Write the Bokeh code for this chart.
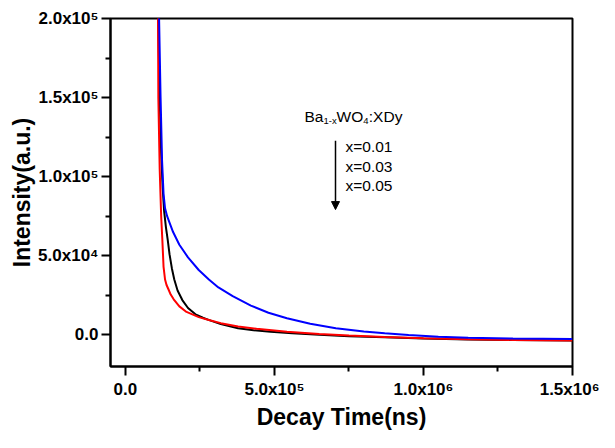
from bokeh.plotting import figure
from bokeh.models import FixedTicker, Range1d, Label, Arrow, NormalHead
from bokeh.embed import file_html
from bokeh.resources import INLINE

# ---- data ----
black_x = [1.07e5, 1.10e5, 1.15e5, 1.20e5, 1.25e5, 1.30e5, 1.36e5, 1.42e5, 1.48e5, 1.56e5,
           1.64e5, 1.75e5, 1.91e5, 2.10e5, 2.35e5, 2.60e5, 2.79e5, 3.20e5, 3.78e5, 4.30e5,
           4.87e5, 5.60e5, 6.51e5, 7.50e5, 8.70e5, 1.00e6, 1.15e6, 1.30e6, 1.50e6]
black_y = [2.5e5, 2.0e5, 1.5e5, 1.15e5, 9.3e4, 7.8e4, 6.8e4, 6.0e4, 5.1e4, 4.2e4,
           3.5e4, 2.8e4, 2.2e4, 1.7e4, 1.3e4, 1.08e4, 9.5e3, 6.8e3, 4.2e3, 2.9e3,
           2.0e3, 1.0e3, 0.0, -8.0e2, -1.5e3, -2.3e3, -2.9e3, -3.3e3, -3.6e3]

red_x = [1.08e5, 1.095e5, 1.105e5, 1.15e5, 1.20e5, 1.237e5, 1.28e5, 1.33e5, 1.38e5, 1.44e5,
         1.52e5, 1.62e5, 1.81e5, 2.05e5, 2.46e5, 2.80e5, 3.20e5, 3.78e5, 4.40e5, 5.42e5,
         6.50e5, 7.50e5, 8.70e5, 1.00e6, 1.15e6, 1.30e6, 1.50e6]
red_y = [2.5e5, 2.0e5, 1.5e5, 1.05e5, 7.5e4, 6.1e4, 4.3e4, 3.5e4, 3.15e4, 2.9e4,
         2.55e4, 2.25e4, 1.8e4, 1.45e4, 1.12e4, 9.4e3, 7.4e3, 5.3e3, 3.8e3, 2.0e3,
         6.0e2, -4.0e2, -1.4e3, -2.2e3, -2.8e3, -3.2e3, -3.5e3]

blue_x = [1.10e5, 1.13e5, 1.18e5, 1.23e5, 1.28e5, 1.33e5, 1.40e5, 1.48e5, 1.60e5, 1.81e5,
          2.10e5, 2.46e5, 2.80e5, 3.12e5, 3.60e5, 4.21e5, 4.80e5, 5.42e5, 6.20e5, 7.06e5,
          8.00e5, 8.70e5, 9.50e5, 1.05e6, 1.15e6, 1.30e6, 1.50e6]
blue_y = [2.6e5, 2.0e5, 1.5e5, 1.1e5, 8.9e4, 8.0e4, 7.5e4, 7.1e4, 6.5e4, 5.7e4,
          4.9e4, 4.1e4, 3.5e4, 3.0e4, 2.45e4, 1.85e4, 1.4e4, 1.05e4, 7.0e3, 4.2e3,
          2.2e3, 1.0e3, -1.0e2, -1.2e3, -1.8e3, -2.3e3, -2.6e3]

x_ticks = [0, 500000, 1000000, 1500000]
x_tick_labels = ["0.0", "5.0x10\u2075", "1.0x10\u2076", "1.5x10\u2076"]
x_minor = [250000, 750000, 1250000]
y_ticks = [0, 50000, 100000, 150000, 200000]
y_tick_labels = ["0.0", "5.0x10\u2074", "1.0x10\u2075", "1.5x10\u2075", "2.0x10\u2075"]
y_minor = [25000, 75000, 125000, 175000]
legend_labels = ["x=0.01", "x=0.03", "x=0.05"]

FONT = "Liberation Sans"

W, H = 599, 432
BL, BR, BT, BB = 110, 27, 18, 58
X0, X1 = -5e4, 1.5e6
Y0, Y1 = -2e4, 2e5

p = figure(width=W, height=H, output_backend="svg", toolbar_location=None,
           x_range=Range1d(X0, X1), y_range=Range1d(Y0, Y1))
p.min_border_left = BL
p.min_border_right = BR
p.min_border_top = BT
p.min_border_bottom = BB
p.background_fill_color = "white"
p.border_fill_color = "white"
p.grid.visible = False
p.outline_line_color = "black"
p.outline_line_width = 2
p.outline_line_alpha = 1.0

for ax in (p.xaxis[0], p.yaxis[0]):
    ax.axis_line_width = 2
    ax.axis_line_color = "black"
    ax.major_tick_line_width = 2
    ax.minor_tick_line_width = 2
    ax.major_tick_out = 9
    ax.major_tick_in = 0
    ax.minor_tick_out = 5
    ax.minor_tick_in = 0
    ax.major_label_text_font = FONT
    ax.major_label_text_font_style = "bold"
    ax.major_label_text_font_size = "17px"
    ax.major_label_text_color = "black"
    ax.axis_label_text_font = FONT
    ax.axis_label_text_font_style = "bold"
    ax.axis_label_text_font_size = "23px"
    ax.axis_label_text_color = "black"

p.xaxis.ticker = FixedTicker(ticks=x_ticks, minor_ticks=x_minor)
p.yaxis.ticker = FixedTicker(ticks=y_ticks, minor_ticks=y_minor)
p.xaxis.major_label_overrides = {float(t): l for t, l in zip(x_ticks, x_tick_labels)}
p.yaxis.major_label_overrides = {float(t): l for t, l in zip(y_ticks, y_tick_labels)}
p.xaxis.axis_label = "Decay Time(ns)"
p.yaxis.axis_label = "Intensity(a.u.)"
p.xaxis.major_label_standoff = 4
p.yaxis.major_label_standoff = 3
p.xaxis.axis_label_standoff = 2
p.yaxis.axis_label_standoff = 0

p.line(black_x, black_y, line_color="black", line_width=2)
p.line(red_x, red_y, line_color="red", line_width=2)
p.line(blue_x, blue_y, line_color="blue", line_width=2)

# ---- annotation placed at the reference's pixel positions (canvas pixels -> data) ----
def px2x(px):
    return X0 + (px - BL) / (W - BL - BR) * (X1 - X0)

def py2y(py):
    return Y1 - (py - BT) / (H - BT - BB) * (Y1 - Y0)

ax0 = px2x(304)
ay0 = py2y(118.5)
parts = [("Ba", 0, 15.5, 0), ("1-x", 19.0, 9.5, -4), ("WO", 32.0, 15.5, 0),
         ("4", 58.8, 9.5, -4), (":XDy", 64.3, 15.5, 0)]
for txt, dx, size, dy in parts:
    p.add_layout(Label(x=ax0, y=ay0, x_offset=dx, y_offset=dy, text=txt,
                       text_font=FONT, text_font_size=f"{size}px", text_color="black",
                       text_baseline="alphabetic", text_align="left"))

for i, lab in enumerate(legend_labels):
    p.add_layout(Label(x=px2x(345), y=py2y(149.3 + 20 * i), text=lab,
                       text_font=FONT, text_font_size="15.5px", text_color="black",
                       text_baseline="middle", text_align="left"))

p.add_layout(Arrow(end=NormalHead(size=8, fill_color="black", line_color="black"),
                   x_start=px2x(335), y_start=py2y(143), x_end=px2x(335), y_end=py2y(213.5),
                   line_color="black", line_width=1.5))

open("out.html", "w").write(file_html(p, INLINE))
